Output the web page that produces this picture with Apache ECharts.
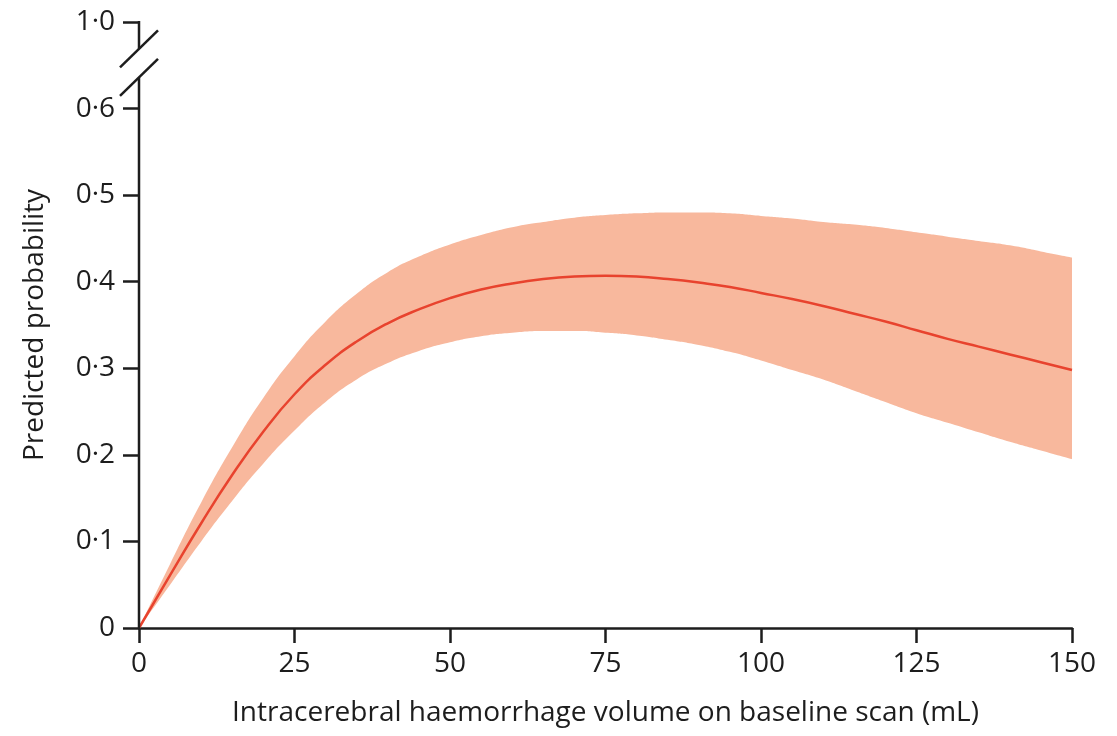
<!DOCTYPE html>
<html>
<head>
<meta charset="utf-8">
<title>Predicted probability by ICH volume</title>
<script src="https://cdn.jsdelivr.net/npm/echarts@6/dist/echarts.min.js"></script>
<style>
  html, body { margin: 0; padding: 0; background: #fff; }
  #chart { width: 1117px; height: 736px; }
</style>
</head>
<body>
<div id="chart"></div>
<script>
// haemorrhage volume (mL)
var volume = [0, 5, 10, 15, 20, 25, 30, 35, 40, 45, 50, 55, 60, 65, 70, 75,
  80, 85, 90, 95, 100, 105, 110, 115, 120, 125, 130, 135, 140, 145, 150];
// predicted probability
var predicted = [0, 0.061, 0.121, 0.177, 0.227, 0.270, 0.304, 0.331, 0.352, 0.368, 0.381,
  0.391, 0.398, 0.403, 0.406, 0.407, 0.406, 0.403, 0.399, 0.394, 0.387,
  0.380, 0.372, 0.363, 0.354, 0.344, 0.334, 0.325, 0.316, 0.307, 0.298];
// confidence band
var lower = [0, 0.050, 0.100, 0.147, 0.190, 0.228, 0.261, 0.287, 0.306, 0.320, 0.330,
  0.337, 0.341, 0.343, 0.343, 0.341, 0.338, 0.333, 0.327, 0.319, 0.309,
  0.298, 0.287, 0.274, 0.261, 0.248, 0.237, 0.226, 0.215, 0.205, 0.195];
var upper = [0, 0.074, 0.145, 0.209, 0.266, 0.314, 0.354, 0.386, 0.411, 0.429, 0.443,
  0.454, 0.463, 0.469, 0.474, 0.477, 0.479, 0.480, 0.480, 0.479, 0.476,
  0.473, 0.469, 0.466, 0.462, 0.457, 0.452, 0.447, 0.442, 0.435, 0.428];
// top slot of the y axis stands for 1.0 (broken axis)
var yBreakSlot = 0.7;

var FONT = 'Open Sans';
var INK = '#1d1d1d';

var chart = echarts.init(document.getElementById('chart'));

var option = {
  animation: false,
  backgroundColor: '#fff',
  grid: { left: 139, right: 45, top: 22, bottom: 108 },
  xAxis: {
    type: 'category',
    data: volume.map(String),
    boundaryGap: false,
    name: 'Intracerebral haemorrhage volume on baseline scan (mL)',
    nameLocation: 'middle',
    nameGap: 71,
    nameTextStyle: { fontFamily: FONT, fontSize: 28, color: INK },
    axisLine: { lineStyle: { color: INK, width: 2.5 } },
    axisTick: { interval: 4, length: 15, lineStyle: { color: INK, width: 2.5 } },
    axisLabel: { interval: 4, fontFamily: FONT, fontSize: 28, color: INK, margin: 22 },
    splitLine: { show: false }
  },
  yAxis: {
    type: 'value',
    min: 0,
    max: yBreakSlot,
    interval: 0.1,
    name: 'Predicted probability',
    nameLocation: 'middle',
    nameGap: 90,
    nameTextStyle: { fontFamily: FONT, fontSize: 28, color: INK },
    axisLine: { show: false },
    axisTick: { show: true, length: 16, lineStyle: { color: INK, width: 2.5 } },
    axisLabel: {
      fontFamily: FONT, fontSize: 28, color: INK, margin: 24,
      formatter: function (v) {
        if (Math.abs(v - yBreakSlot) < 1e-6) return '1\u00b70';
        if (v === 0) return '0';
        return v.toFixed(1).replace('.', '\u00b7');
      }
    },
    splitLine: { show: false }
  },
  series: [
    {
      name: 'lower',
      type: 'line',
      data: lower,
      stack: 'band',
      symbol: 'none',
      smooth: true,
      lineStyle: { opacity: 0 },
      silent: true
    },
    {
      name: 'band',
      type: 'line',
      data: upper.map(function (u, i) { return +(u - lower[i]).toFixed(3); }),
      stack: 'band',
      symbol: 'none',
      smooth: true,
      lineStyle: { opacity: 0 },
      areaStyle: { color: '#f8b89d', opacity: 1 },
      silent: true
    },
    {
      name: 'Predicted probability',
      type: 'line',
      data: predicted,
      symbol: 'none',
      smooth: true,
      lineStyle: { color: '#e8432e', width: 2.5 },
      z: 5
    }
  ]
};

chart.setOption(option);

// y axis line with the break marks between 0·6 and 1·0
var ax = chart.convertToPixel({ xAxisIndex: 0 }, '0');
var y0 = chart.convertToPixel({ yAxisIndex: 0 }, 0);
var yTop = chart.convertToPixel({ yAxisIndex: 0 }, yBreakSlot);
var yLowBreak = chart.convertToPixel({ yAxisIndex: 0 }, 0.636);
var yHighBreak = chart.convertToPixel({ yAxisIndex: 0 }, 0.669);
var slashW = 19, slashH = 18.5;
var axisStyle = { stroke: INK, lineWidth: 2.5 };

chart.setOption({
  graphic: [
    { type: 'line', z: 10, shape: { x1: ax, y1: y0 + 1, x2: ax, y2: yLowBreak }, style: axisStyle },
    { type: 'line', z: 10, shape: { x1: ax, y1: yHighBreak, x2: ax, y2: yTop - 1 }, style: axisStyle },
    { type: 'line', z: 10, shape: { x1: ax - slashW, y1: yLowBreak + slashH, x2: ax + slashW, y2: yLowBreak - slashH }, style: axisStyle },
    { type: 'line', z: 10, shape: { x1: ax - slashW, y1: yHighBreak + slashH, x2: ax + slashW, y2: yHighBreak - slashH }, style: axisStyle }
  ]
});
</script>
</body>
</html>
